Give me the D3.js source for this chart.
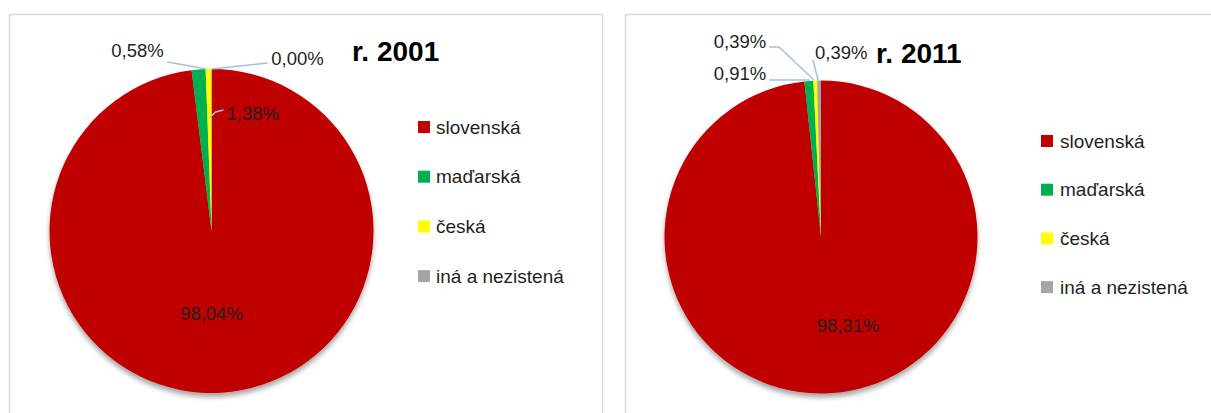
<!DOCTYPE html>
<html>
<head>
<meta charset="utf-8">
<script src="https://cdn.jsdelivr.net/npm/d3@7"></script>
<style>
  html, body { margin: 0; padding: 0; background: #fff; }
  svg { display: block; font-family: "Liberation Sans", Arial, sans-serif; }
</style>
</head>
<body>
<svg id="chart" width="1211" height="413"></svg>
<script>
// ---- data ----
const categories = ["slovenská", "maďarská", "česká", "iná a nezistená"];
const colors = ["#c00000", "#00b050", "#ffff00", "#a5a5a5"];
const years = ["r. 2001", "r. 2011"];
const values2001 = [98.04, 1.38, 0.58, 0.00];
const values2011 = [98.31, 0.91, 0.39, 0.39];

const fmt = v => d3.format(".2f")(v).replace(".", ",") + "%";

const svg = d3.select("#chart");
const defs = svg.append("defs");
const f = defs.append("filter").attr("id", "shadow")
  .attr("x", "-10%").attr("y", "-10%").attr("width", "120%").attr("height", "125%");
f.append("feDropShadow").attr("dx", 0).attr("dy", 4).attr("stdDeviation", 2.5)
  .attr("flood-color", "#000").attr("flood-opacity", 0.35);

// ---- layout (positions only) ----
const panels = [
  {
    values: values2001, title: years[0],
    box: {x: 9.5, y: 14.5, w: 593, h: 420},
    cx: 211.5, cy: 231, r: 162,
    title_pos: [352, 61],
    legend: {x: 418, y: 127, step: 49.7, tx: 436},
    labels: [
      {i: 0, t: [0, 82], a: "middle", lead: null},
      {i: 1, t: [15, -118], a: "start", lead: [[12, -121], [4, -119], [-2, -113]]},
      {i: 2, t: [-74, -181], a: "middle", lead: [[-44, -169], [-5, -162]]},
      {i: 3, t: [86, -173], a: "middle", lead: [[56, -168], [0, -162]]}
    ]
  },
  {
    values: values2011, title: years[1],
    box: {x: 625.5, y: 14.5, w: 600, h: 420},
    cx: 821, cy: 237, r: 156.5,
    title_pos: [876, 63],
    legend: {x: 1041, y: 141, step: 48.7, tx: 1060},
    labels: [
      {i: 0, t: [27, 88], a: "middle", lead: null},
      {i: 1, t: [-81, -164], a: "middle", lead: [[-52, -157], [-11, -157]]},
      {i: 2, t: [-81, -196], a: "middle", lead: [[-52, -190], [-42, -190], [-7, -157]]},
      {i: 3, t: [-6, -185], a: "start", lead: [[-8, -177], [-3, -157]]}
    ]
  }
];

const pie = d3.pie().sort(null).value(d => d);
const arc = d3.arc().innerRadius(0);

panels.forEach(p => {
  const g = svg.append("g");
  g.append("rect")
    .attr("x", p.box.x).attr("y", p.box.y)
    .attr("width", p.box.w).attr("height", p.box.h)
    .attr("fill", "#fff").attr("stroke", "#d9d9d9").attr("stroke-width", 1.5);

  const arcs = pie(p.values);
  const pg = g.append("g")
    .attr("transform", `translate(${p.cx},${p.cy})`)
    .attr("filter", "url(#shadow)");
  pg.selectAll("path").data(arcs).enter().append("path")
    .attr("d", d => arc.outerRadius(p.r)(d))
    .attr("fill", (d, i) => colors[i]);

  const lg = g.append("g").attr("transform", `translate(${p.cx},${p.cy})`);
  p.labels.forEach(L => {
    if (L.lead) {
      lg.append("polyline")
        .attr("points", L.lead.map(q => q.join(",")).join(" "))
        .attr("fill", "none").attr("stroke", "#9dc3e6").attr("stroke-width", 1.5);
    }
    lg.append("text")
      .attr("x", L.t[0]).attr("y", L.t[1])
      .attr("text-anchor", L.a)
      .attr("dominant-baseline", "central")
      .attr("font-size", 18.5)
      .attr("fill", "#1f1f1f")
      .text(fmt(p.values[L.i]));
  });

  g.append("text")
    .attr("x", p.title_pos[0]).attr("y", p.title_pos[1])
    .attr("font-size", 28).attr("font-weight", "bold")
    .attr("fill", "#000")
    .text(p.title);

  const leg = g.selectAll(".leg").data(categories).enter().append("g")
    .attr("transform", (d, i) => `translate(0,${p.legend.y + i * p.legend.step})`);
  leg.append("rect")
    .attr("x", p.legend.x).attr("y", -6)
    .attr("width", 12).attr("height", 12)
    .attr("fill", (d, i) => colors[i]);
  leg.append("text")
    .attr("x", p.legend.tx).attr("y", 0)
    .attr("dominant-baseline", "central")
    .attr("font-size", 19)
    .attr("fill", "#1f1f1f")
    .text(d => d);
});
</script>
</body>
</html>
